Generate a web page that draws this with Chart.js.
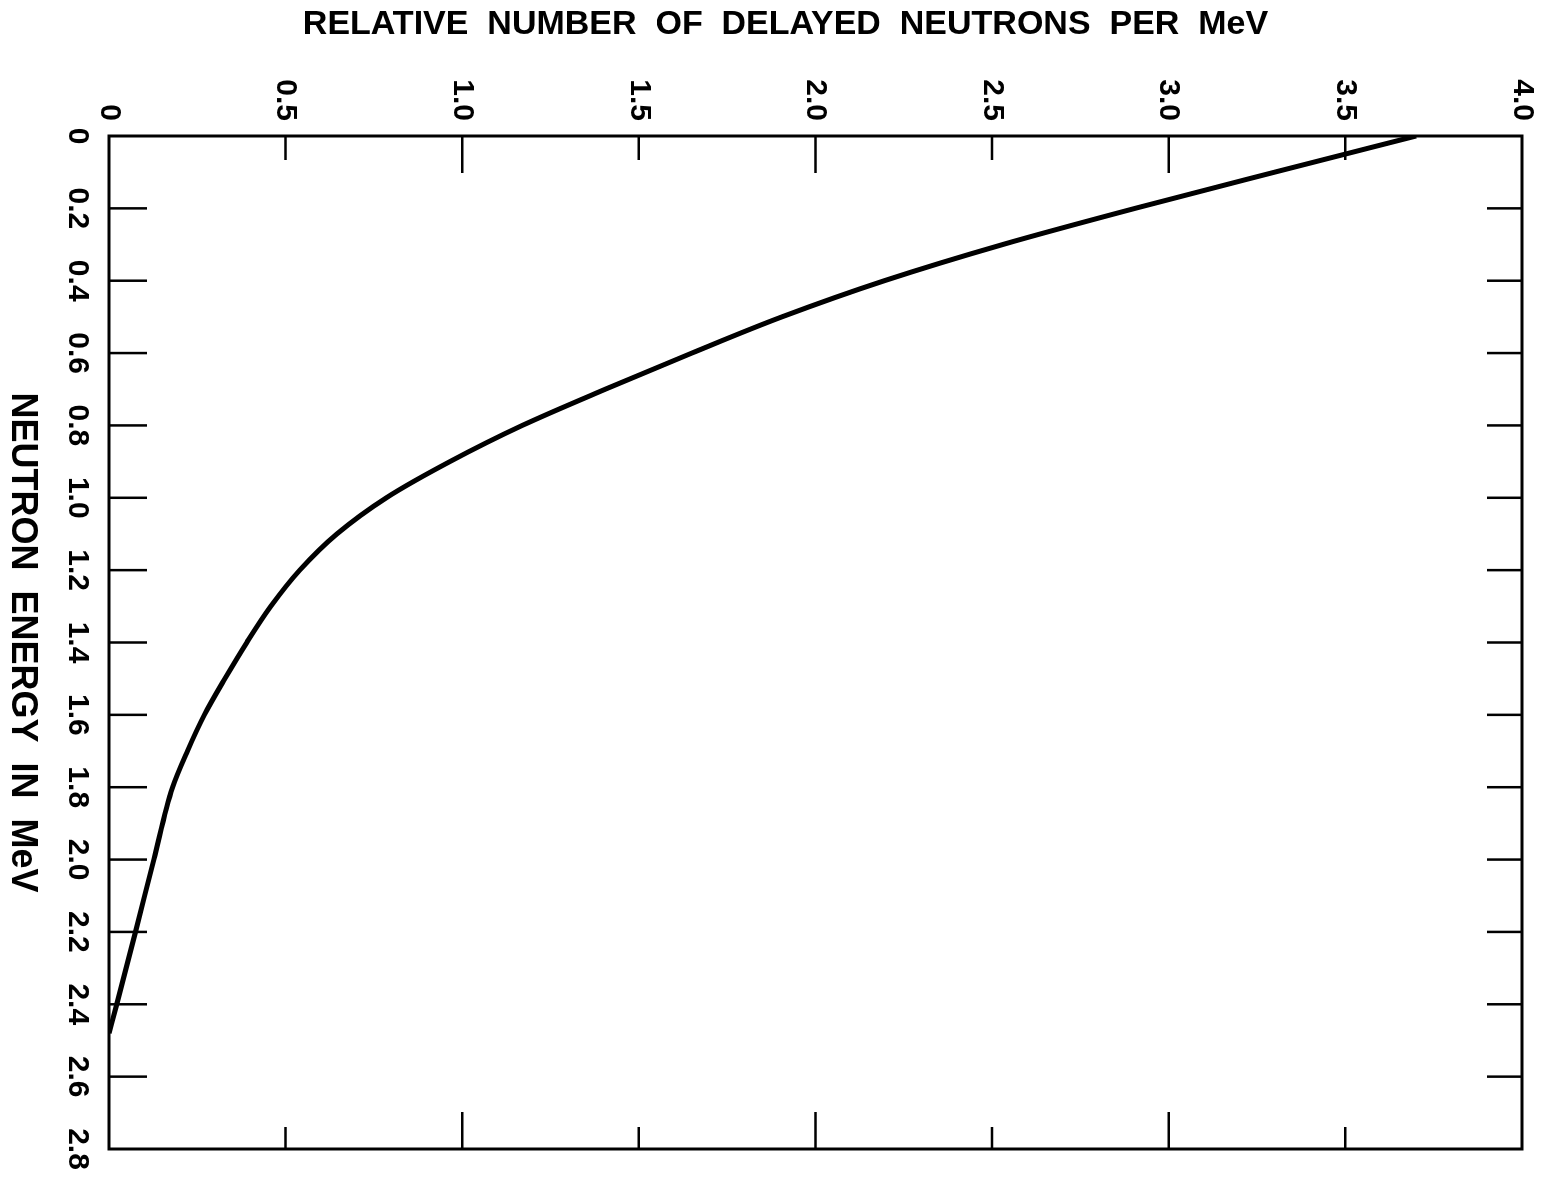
<!DOCTYPE html>
<html>
<head>
<meta charset="utf-8">
<script src="https://cdn.jsdelivr.net/npm/chart.js@4.4.1/dist/chart.umd.min.js"></script>
<style>
  html, body { margin: 0; padding: 0; background: #fff; }
  body { width: 1542px; height: 1185px; overflow: hidden; position: relative; }
  /* the original graph is drawn upright, then turned a quarter clockwise */
  #delayed {
    position: absolute; left: 0; top: 0;
    transform-origin: 0 0;
    transform: translate(1542px, 0) rotate(90deg);
  }
</style>
</head>
<body>
<canvas id="delayed" width="1185" height="1542"></canvas>
<script>
// curve: neutron energy (MeV) vs relative number per MeV
const energyMeV = [0, 0.1, 0.2, 0.3, 0.4, 0.5, 0.6, 0.7, 0.8, 0.9, 1.0, 1.1, 1.2, 1.3, 1.4, 1.5, 1.6, 1.7, 1.8, 2.0, 2.2, 2.4, 2.48];
const relativePerMeV = [3.70, 3.30, 2.905, 2.53, 2.195, 1.905, 1.65, 1.405, 1.17, 0.965, 0.785, 0.645, 0.54, 0.458, 0.39, 0.328, 0.27, 0.222, 0.18, 0.127, 0.075, 0.022, 0];

const energyTicks = [0, 0.2, 0.4, 0.6, 0.8, 1.0, 1.2, 1.4, 1.6, 1.8, 2.0, 2.2, 2.4, 2.6, 2.8];
const energyTickLabels = ['0', '0.2', '0.4', '0.6', '0.8', '1.0', '1.2', '1.4', '1.6', '1.8', '2.0', '2.2', '2.4', '2.6', '2.8'];
const relativeTicks = [0, 0.5, 1.0, 1.5, 2.0, 2.5, 3.0, 3.5, 4.0];
const relativeTickLabels = ['0', '0.5', '1.0', '1.5', '2.0', '2.5', '3.0', '3.5', '4.0'];

const FAMILY = '"Liberation Sans", Arial, sans-serif';
const RELATIVE_TITLE = 'RELATIVE  NUMBER  OF  DELAYED  NEUTRONS  PER  MeV';

// frame plus the short ticks that point into the plot
const insideTicks = {
    id: 'insideTicks',
    afterDatasetsDraw(chart) {
        const {ctx, chartArea: a, scales: {x, y}} = chart;
        ctx.save();
        ctx.strokeStyle = '#000';
        ctx.lineWidth = 2.5;
        ctx.beginPath();
        energyTicks.slice(1, -1).forEach(v => {
            const px = x.getPixelForValue(v);
            ctx.moveTo(px, a.bottom); ctx.lineTo(px, a.bottom - 38);
            ctx.moveTo(px, a.top); ctx.lineTo(px, a.top + 35);
        });
        relativeTicks.slice(1, -1).forEach(v => {
            const py = y.getPixelForValue(v);
            const whole = Number.isInteger(v);
            ctx.moveTo(a.left, py); ctx.lineTo(a.left + (whole ? 37 : 24), py);
            ctx.moveTo(a.right, py); ctx.lineTo(a.right - (whole ? 37 : 22), py);
        });
        ctx.stroke();
        ctx.lineWidth = 3;
        ctx.strokeRect(a.left, a.top, a.right - a.left, a.bottom - a.top);
        ctx.restore();
    },
    // the value-axis title sits a little off centre in the original
    afterDraw(chart) {
        const {ctx, chartArea: a} = chart;
        ctx.save();
        ctx.translate(25, (a.top + a.bottom) / 2 + 30);
        ctx.rotate(-Math.PI / 2);
        ctx.fillStyle = '#000';
        ctx.font = 'bold 34px ' + FAMILY;
        ctx.textAlign = 'center';
        ctx.textBaseline = 'middle';
        ctx.fillText(RELATIVE_TITLE, 0, 0);
        ctx.restore();
    }
};

new Chart(document.getElementById('delayed'), {
    type: 'line',
    data: {
        datasets: [{
            label: 'delayed neutrons',
            data: energyMeV.map((e, i) => ({x: e, y: relativePerMeV[i]})),
            borderColor: '#000',
            borderWidth: 5,
            pointRadius: 0,
            fill: false,
            cubicInterpolationMode: 'monotone'
        }]
    },
    options: {
        responsive: false,
        animation: false,
        devicePixelRatio: 1,
        layout: { padding: { top: 20, right: 36, left: 0, bottom: 0 } },
        plugins: { legend: { display: false }, tooltip: { enabled: false } },
        scales: {
            x: {
                type: 'linear', min: 0, max: 2.8,
                afterBuildTicks: s => { s.ticks = energyTicks.map(v => ({value: v})); },
                afterFit: s => { s.height = 109; s.paddingLeft = 0; s.paddingRight = 0; },
                grid: { display: false, drawTicks: false },
                border: { display: false },
                ticks: {
                    padding: 14, color: '#000', maxRotation: 0, autoSkip: false,
                    font: { family: FAMILY, size: 30, weight: 'bold' },
                    callback: (v, i) => energyTickLabels[i]
                },
                title: {
                    display: true, text: 'NEUTRON  ENERGY  IN  MeV', color: '#000',
                    padding: { top: 0, bottom: 0 },
                    font: { family: FAMILY, size: 36, weight: 'bold' }
                }
            },
            y: {
                type: 'linear', min: 0, max: 4,
                afterBuildTicks: s => { s.ticks = relativeTicks.map(v => ({value: v})); },
                afterFit: s => { s.width = 136; s.paddingTop = 0; s.paddingBottom = 0; },
                grid: { display: false, drawTicks: false },
                border: { display: false },
                ticks: {
                    padding: 15, color: '#000', autoSkip: false,
                    font: { family: FAMILY, size: 30, weight: 'bold' },
                    callback: (v, i) => relativeTickLabels[i]
                },
                title: { display: false }
            }
        }
    },
    plugins: [insideTicks]
});
</script>
</body>
</html>
